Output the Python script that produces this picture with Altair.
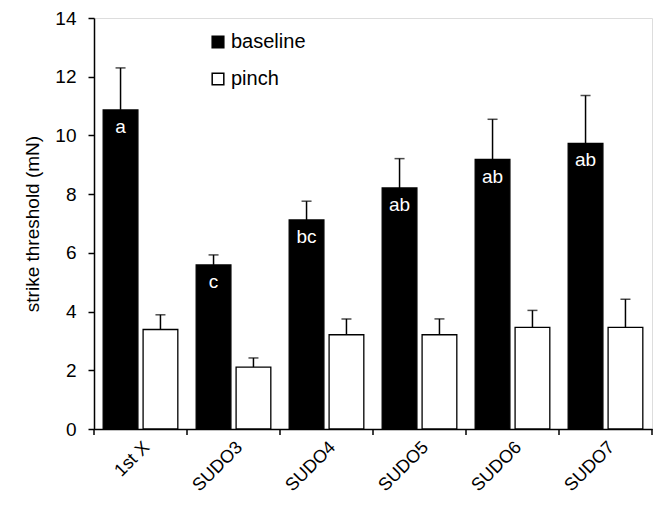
import altair as alt
import pandas as pd

categories = ["1st X", "SUDO3", "SUDO4", "SUDO5", "SUDO6", "SUDO7"]
series = ["baseline", "pinch"]
baseline_values = [10.87, 5.59, 7.12, 8.21, 9.18, 9.73]
baseline_sem = [1.43, 0.34, 0.64, 1.00, 1.37, 1.63]
pinch_values = [3.39, 2.11, 3.21, 3.21, 3.46, 3.46]
pinch_sem = [0.50, 0.31, 0.54, 0.54, 0.58, 0.96]
letters = ["a", "c", "bc", "ab", "ab", "ab"]
y_ticks = [0, 2, 4, 6, 8, 10, 12, 14]

rows = []
for i, c in enumerate(categories):
    rows.append({"cat": c, "series": "baseline", "value": baseline_values[i],
                 "sem": baseline_sem[i], "letter": letters[i], "last": i == len(categories) - 1})
    rows.append({"cat": c, "series": "pinch", "value": pinch_values[i],
                 "sem": pinch_sem[i], "letter": "", "last": i == len(categories) - 1})
df = pd.DataFrame(rows)

FONT = "Liberation Sans"
FS = 19
H = 411

x_enc = alt.X("cat:N", sort=categories, title=None,
              scale=alt.Scale(paddingInner=0, paddingOuter=0),
              axis=alt.Axis(labelAngle=-45, labelFontSize=18, labelColor="black",
                            ticks=False, labelPadding=9, domainColor="black",
                            domainWidth=1.5, labelFont=FONT))
xoff = alt.XOffset("series:N", sort=series,
                   scale=alt.Scale(paddingInner=0.13, paddingOuter=0.23))
y_enc = alt.Y("value:Q", title="strike threshold (mN)",
              scale=alt.Scale(domain=[0, 14], nice=False),
              axis=alt.Axis(values=y_ticks, grid=False, tickSize=6, tickWidth=1.5,
                            tickColor="black", domainColor="black", domainWidth=1.5,
                            labelFontSize=FS, labelColor="black", labelPadding=12,
                            titleFontSize=FS, titleFontWeight="normal", titleColor="black",
                            titlePadding=12, labelFont=FONT, titleFont=FONT))

base = alt.Chart(df)

bars = base.mark_bar(stroke="black", strokeWidth=1.3).encode(
    x=x_enc, xOffset=xoff, y=y_enc,
    fill=alt.Fill("series:N", sort=series, title=None,
                  scale=alt.Scale(domain=series, range=["black", "white"]),
                  legend=alt.Legend(orient="none", legendX=114, legendY=14,
                                    symbolType="square", symbolSize=135,
                                    symbolStrokeColor="black", symbolStrokeWidth=1.5,
                                    labelFontSize=20, labelFont=FONT, labelColor="black",
                                    rowPadding=17, labelOffset=3))
)

err = base.transform_calculate(upper="datum.value + datum.sem").mark_rule(
    color="black", strokeWidth=1.5).encode(
    x=alt.X("cat:N", sort=categories), xOffset=xoff,
    y="value:Q", y2="upper:Q")

caps = base.transform_calculate(upper="datum.value + datum.sem").mark_tick(
    color="black", orient="horizontal", size=10, thickness=1.5).encode(
    x=alt.X("cat:N", sort=categories), xOffset=xoff, y="upper:Q")

labels = base.transform_filter("datum.series == 'baseline'").mark_text(
    color="white", fontSize=FS, font=FONT, baseline="middle", dy=17).encode(
    x=alt.X("cat:N", sort=categories), xOffset=xoff, y="value:Q", text="letter:N")

ticks_left = base.transform_filter("datum.series == 'baseline'").mark_rule(
    color="black", strokeWidth=1.5).encode(
    x=alt.X("cat:N", sort=categories, bandPosition=0),
    y=alt.value(H), y2=alt.value(H + 6))

ticks_right = base.transform_filter("datum.series == 'baseline' && datum.last").mark_rule(
    color="black", strokeWidth=1.5).encode(
    x=alt.X("cat:N", sort=categories, bandPosition=1),
    y=alt.value(H), y2=alt.value(H + 6))

chart = alt.layer(bars, err, caps, labels, ticks_left, ticks_right).properties(
    width=558, height=H,
    autosize=alt.AutoSizeParams(type="none"),
    padding={"left": 86, "top": 10, "right": 4, "bottom": 72},
).configure_view(stroke=None).configure(font=FONT)

chart.save("out.html", embed_options={"renderer": "svg", "actions": False})
